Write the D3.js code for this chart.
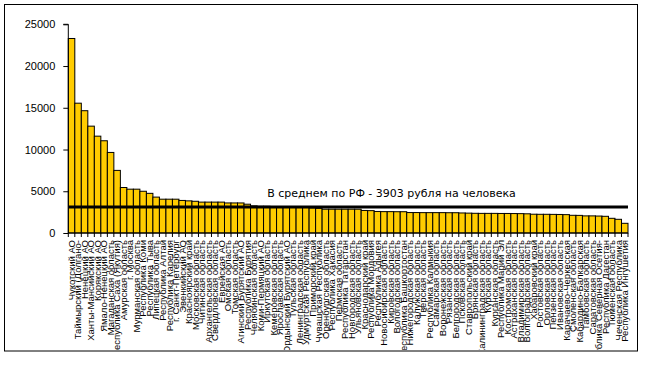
<!DOCTYPE html>
<html lang="ru">
<head>
<meta charset="UTF-8">
<title>Расходы по регионам</title>
<script src="https://d3js.org/d3.v7.min.js"></script>
<style>
    body { margin: 0; background: #fff; }
    svg text { font-family: "Liberation Sans", Arial, sans-serif; }
    .ytick text { font-size: 11px; fill: #000; }
    .cat { font-size: 9.5px; fill: #000; }
    .avg-label { font-family: "DejaVu Sans", Verdana, sans-serif !important; font-size: 11px; fill: #000; }
</style>
</head>
<body>
<div id="chart"></div>
<script>
    // Regions in chart order
    const regions = [
        "Чукотский АО", "Таймырский (Долгано-Ненецкий) АО", "Ненецкий АО", "Ханты-Мансийский АО",
        "Корякский АО", "Ямало-Ненецкий АО", "Магаданская область", "Республика Саха (Якутия)",
        "Амурская область", "г. Москва", "Мурманская область", "Республика Коми",
        "Республика Тыва", "Липецкая область", "Республика Алтай", "Республика Карелия",
        "г. Санкт-Петербург", "Эвенкийский АО", "Красноярский край", "Московская область",
        "Читинская область", "Архангельская область", "Свердловская область", "Еврейская АО",
        "Омская область", "Томская область", "Агинский Бурятский АО", "Республика Бурятия",
        "Челябинская область", "Коми-Пермяцкий АО", "Иркутская область", "Кемеровская область",
        "Ярославская область", "Усть-Ордынский Бурятский АО", "Тульская область", "Ленинградская область",
        "Удмуртская Республика", "Приморский край", "Чувашская Республика", "Оренбургская область",
        "Республика Хакасия", "Пермская область", "Республика Татарстан", "Новгородская область",
        "Ульяновская область", "Краснодарский край", "Республика Мордовия", "Республика Адыгея",
        "Новосибирская область", "Кировская область", "Вологодская область", "Республика Башкортостан",
        "Нижегородская область", "Калужская область", "Тверская область", "Республика Калмыкия",
        "Самарская область", "Воронежская область", "Рязанская область", "Белгородская область",
        "Псковская область", "Ставропольский край", "Брянская область", "Калининградская область",
        "Курская область", "Курганская область", "Республика Марий Эл", "Костромская область",
        "Астраханская область", "Владимирская область", "Волгоградская область", "Хабаровский край",
        "Ростовская область", "Орловская область", "Пензенская область", "Ивановская область",
        "Карачаево-Черкесская Республика", "Смоленская область", "Кабардино-Балкарская Республика", "Тамбовская область",
        "Саратовская область", "Республика Северная Осетия-Алания", "Республика Дагестан", "Тюменская область",
        "Чеченская Республика", "Республика Ингушетия"
    ];

    // Rubles per person
    const spending = [
        23300, 15550, 14650, 12800, 11600, 11050, 9650, 7500,
        5450, 5250, 5250, 5000, 4750, 4300, 4050, 4050,
        4050, 3900, 3850, 3800, 3700, 3700, 3700, 3700,
        3600, 3600, 3600, 3450, 3250, 3200, 3200, 3150,
        3150, 3100, 3100, 3050, 3050, 3000, 2950, 2850,
        2850, 2850, 2850, 2850, 2850, 2700, 2680, 2580,
        2560, 2560, 2550, 2550, 2450, 2450, 2440, 2440,
        2440, 2440, 2430, 2430, 2400, 2380, 2360, 2350,
        2350, 2350, 2340, 2340, 2330, 2320, 2300, 2250,
        2240, 2240, 2230, 2220, 2200, 2120, 2110, 2050,
        2050, 2030, 2000, 1760, 1640, 1160
    ];

    const yTicks = [0, 5000, 10000, 15000, 20000, 25000];
    const avgLineValue = 3100;
    const avgLabel = "В среднем по РФ - 3903 рубля на человека";

    const W = 647, H = 384;
    const plot = { left: 68.3, right: 628, top: 24.3, bottom: 233 };

    const data = regions.map((r, i) => ({ region: r, value: spending[i] }));

    const svg = d3.select("#chart").append("svg")
        .attr("width", W)
        .attr("height", H);

    // chart frame
    svg.append("rect")
        .attr("x", 4.5).attr("y", 4.5)
        .attr("width", 633).attr("height", 346.5)
        .attr("fill", "#fff")
        .attr("stroke", "#000");

    svg.append("clipPath").attr("id", "frame-clip")
        .append("rect").attr("x", 5).attr("y", 5).attr("width", 632).attr("height", 345);

    const x = d3.scaleBand()
        .domain(regions)
        .range([plot.left, plot.right])
        .padding(0);

    const y = d3.scaleLinear()
        .domain([0, 25000])
        .range([plot.bottom, plot.top]);

    // bars
    svg.append("g")
        .selectAll("rect")
        .data(data)
        .join("rect")
        .attr("x", d => x(d.region))
        .attr("y", d => y(d.value))
        .attr("width", x.bandwidth())
        .attr("height", d => y(0) - y(d.value))
        .attr("fill", "#ffcc00")
        .attr("stroke", "#000")
        .attr("stroke-width", 1);

    // average line
    svg.append("line")
        .attr("x1", plot.left).attr("x2", plot.right)
        .attr("y1", y(avgLineValue)).attr("y2", y(avgLineValue))
        .attr("stroke", "#000")
        .attr("stroke-width", 3);

    svg.append("text")
        .attr("class", "avg-label")
        .attr("x", 391.5)
        .attr("y", 196.5)
        .attr("text-anchor", "middle")
        .text(avgLabel);

    // y axis
    const yAxis = svg.append("g")
        .attr("class", "ytick")
        .attr("transform", `translate(${plot.left},0)`)
        .call(d3.axisLeft(y).tickValues(yTicks).tickFormat(d3.format("d")).tickSize(5).tickPadding(8));
    yAxis.select(".domain").attr("stroke", "#000").attr("d", `M-5,${plot.top}H0V${plot.bottom}`);
    yAxis.selectAll(".tick line").attr("stroke", "#000");

    // x axis line and tick marks between categories
    const xAxis = svg.append("g");
    xAxis.append("line")
        .attr("x1", plot.left).attr("x2", plot.right)
        .attr("y1", plot.bottom).attr("y2", plot.bottom)
        .attr("stroke", "#000");
    const edges = regions.map(r => x(r)).concat([plot.right]);
    xAxis.selectAll(".xt")
        .data(edges)
        .join("line")
        .attr("x1", d => d).attr("x2", d => d)
        .attr("y1", plot.bottom).attr("y2", plot.bottom + 4)
        .attr("stroke", "#000");

    // category labels, rotated; the long ones show only their first wrapped line, as in the original
    function firstLine(s) {
        if (s.length <= 27) return s;
        const cut = s.lastIndexOf(" ", 24);
        const dash = s.lastIndexOf("-", 27);
        return dash > cut ? s.slice(0, dash + 1) : s.slice(0, cut);
    }

    svg.append("g")
        .attr("clip-path", "url(#frame-clip)")
        .selectAll("text")
        .data(data)
        .join("text")
        .attr("class", "cat")
        .attr("text-anchor", "end")
        .attr("dy", "0.35em")
        .attr("transform", d => `translate(${x(d.region) + x.bandwidth() / 2},240) rotate(-90)`)
        .text(d => firstLine(d.region));
</script>
</body>
</html>
